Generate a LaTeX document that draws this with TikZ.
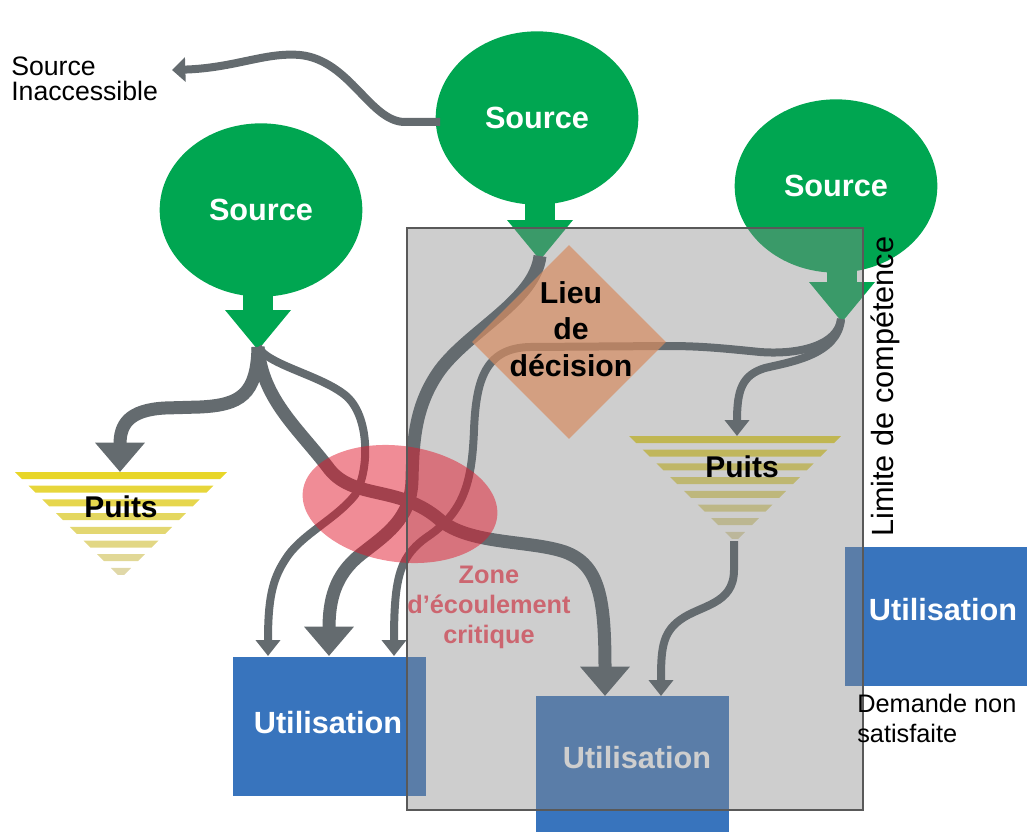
\documentclass[tikz,border=0pt]{standalone}
\usepackage{fontspec}
\setmainfont{Liberation Sans}
\usetikzlibrary{arrows.meta,shapes.geometric,calc}

\definecolor{srcgreen}{RGB}{0,166,81}
\definecolor{useblue}{RGB}{56,116,189}
\definecolor{flowgray}{RGB}{100,107,111}
\definecolor{sinkA}{RGB}{232,214,40}
\definecolor{sinkB}{RGB}{224,216,168}
\definecolor{decfill}{RGB}{214,140,97}
\definecolor{critred}{RGB}{225,25,45}
\definecolor{crittext}{RGB}{204,102,112}
\definecolor{areagray}{RGB}{139,139,139}

% striped sink triangle: #1 = centre x, #2 = top y
\newcommand\sinkstripes[2]{%
  \foreach \i in {0,...,7}{%
    \pgfmathsetmacro\ya{#2+13.7*\i}%
    \pgfmathsetmacro\yb{\ya+7}%
    \pgfmathsetmacro\ha{#2+106-\ya}%
    \pgfmathsetmacro\hb{#2+106-\yb}%
    \pgfmathtruncatemacro\pct{100-\i*100/7}%
    \fill[sinkA!\pct!sinkB] (#1-\ha,\ya) -- (#1+\ha,\ya) -- (#1+\hb,\yb) -- (#1-\hb,\yb) -- cycle;
  }}

% neck and downward triangle below a source, ending at the given tip
\newcommand\sourcestub[1]{%
  \fill[srcgreen] (#1) ++(-15,-38) rectangle ++(30,-24);
  \fill[srcgreen] (#1) ++(-33,-40) -- ++(66,0) -- (#1) -- cycle;}

\begin{document}
\begin{tikzpicture}[x=0.75pt,y=-0.75pt,
  srcnode/.style={ellipse, fill=srcgreen, inner sep=0pt, minimum width=152pt,
    minimum height=130pt, text=white, font=\fontsize{23}{27}\selectfont\bfseries},
  usebox/.style={rectangle, fill=useblue, inner sep=0pt, minimum width=144.75pt,
    minimum height=104.25pt},
  usetext/.style={text=white, inner sep=0pt, font=\fontsize{23}{27}\selectfont\bfseries},
  sinklabel/.style={inner sep=0pt, font=\fontsize{22.5}{27}\selectfont\bfseries},
  thinflow/.style={draw=flowgray, line width=6pt, -{Triangle[width=18pt,length=12pt]}},
  thickflow/.style={draw=flowgray, line width=9.75pt, -{Triangle[width=36pt,length=22pt]}},
]
\useasboundingbox (0,0) rectangle (1027,831);

% ---- anchor points of the flows
\coordinate (tipT) at (540,260);
\coordinate (tipL) at (258,350);
\coordinate (tipR) at (842,322);
\coordinate (outT) at (540,256);
\coordinate (outTw) at (440,122);
\coordinate (outL) at (258,347);
\coordinate (outR) at (841,319);
\coordinate (lost) at (172,70);
\coordinate (inP1) at (120,472);
\coordinate (inP2) at (737,436);
\coordinate (outP2) at (734,541);
\coordinate (inL1) at (268,656);
\coordinate (inL2) at (329,656);
\coordinate (inL3) at (394,656);
\coordinate (inB1) at (605,696);
\coordinate (inB2) at (661,696);

% ---- use boxes
\node[usebox] (useL) at (329.5,726.5) {};
\node[usebox] (useB) at (632,765.5) {};
\node[usebox] (useR) at (941.5,616) {};
\node[usetext] (tL) at (328,723) {Utilisation};
\node[usetext] (tB) at (637,758) {Utilisation};
\node[usetext] (tR) at (943,610) {Utilisation};

% ---- sinks
\sinkstripes{121}{472}
\sinkstripes{735}{436}

% ---- sources
\node[srcnode] (srcT) at (537,118) {Source};
\node[srcnode] (srcL) at (261,210) {Source};
\node[srcnode] (srcR) at (836,186) {Source};
\sourcestub{tipT}
\sourcestub{tipL}
\sourcestub{tipR}

% ---- area of competence (fill)
\fill[areagray, fill opacity=0.42] (407,228) rectangle (863,810);

% ---- flows
\draw[thinflow, -{Triangle[width=18pt,length=10pt]}] (outTw) -- (405,122)
  .. controls (370,122) and (350,60) .. (300,55)
  .. controls (265,52) and (235,68) .. (lost);
\draw[thickflow] (outL) .. controls (257,395) and (240,405) .. (200,407) -- (165,408)
  .. controls (128,410) and (120,425) .. (inP1);
\draw[thickflow] (outL) .. controls (262,400) and (300,430) .. (330,470)
  .. controls (355,500) and (400,485) .. (440,520)
  .. controls (470,545) and (530,540) .. (565,552)
  .. controls (600,565) and (605,600) .. (inB1);
\draw[thinflow] (outL) .. controls (268,365) and (320,375) .. (345,395)
  .. controls (370,415) and (370,470) .. (355,495)
  .. controls (335,520) and (300,535) .. (285,560)
  .. controls (272,580) and (268,600) .. (inL1);
\draw[thickflow] (outT) .. controls (535,300) and (470,330) .. (440,370)
  .. controls (415,405) and (413,440) .. (412,480)
  .. controls (411,520) and (385,535) .. (360,555)
  .. controls (335,575) and (329,600) .. (inL2);
\draw[thinflow] (outR) .. controls (838,345) and (800,355) .. (760,352)
  .. controls (720,348) and (700,346) .. (667,346) -- (530,347)
  .. controls (485,348) and (476,380) .. (474,430)
  .. controls (472,480) and (465,510) .. (430,535)
  .. controls (400,555) and (394,575) .. (inL3);
\draw[thinflow] (outR) .. controls (838,355) and (790,362) .. (765,368)
  .. controls (742,375) and (737,390) .. (inP2);
\draw[thinflow] (outP2) -- (734,570)
  .. controls (734,605) and (700,605) .. (680,620)
  .. controls (662,633) and (661,650) .. (inB2);

% ---- sink labels
\node[sinklabel] (sinkL) at (121,507) {Puits};
\node[sinklabel] (sinkR) at (742,467) {Puits};

% ---- decision place and critical zone
\node[diamond, aspect=1, fill=decfill, fill opacity=0.7, inner sep=0pt,
  minimum width=145.5pt, minimum height=145.5pt] (dec) at (569,342) {};
\node[align=center, inner sep=0pt, font=\fontsize{22.7}{27.4}\selectfont\bfseries]
  (decT) at (571,329) {Lieu\\de\\décision};
\node[ellipse, fill=critred, fill opacity=0.5, inner sep=0pt,
  minimum width=147pt, minimum height=87pt, rotate=-8] (crit) at (400,504) {};
\node[align=center, inner sep=0pt, text=crittext,
  font=\fontsize{19}{22.5}\selectfont\bfseries] (critT) at (489,607)
  {Zone\\d’écoulement\\critique};

% ---- area of competence (outline)
\draw[line width=0.8pt, draw=black!65] (407,228) rectangle (863,810);

% ---- plain labels
\node[anchor=west, align=left, inner sep=0pt, font=\fontsize{20}{18.75}\selectfont]
  (lostT) at (11,79) {Source\\Inaccessible};
\node[rotate=90, anchor=base west, inner sep=0pt, font=\fontsize{23}{27}\selectfont]
  (limit) at (893,537) {Limite de compétence};
\node[anchor=north west, align=left, inner sep=0pt, font=\fontsize{19}{22.5}\selectfont]
  (unmet) at (857,694) {Demande non\\satisfaite};
\end{tikzpicture}
\end{document}
